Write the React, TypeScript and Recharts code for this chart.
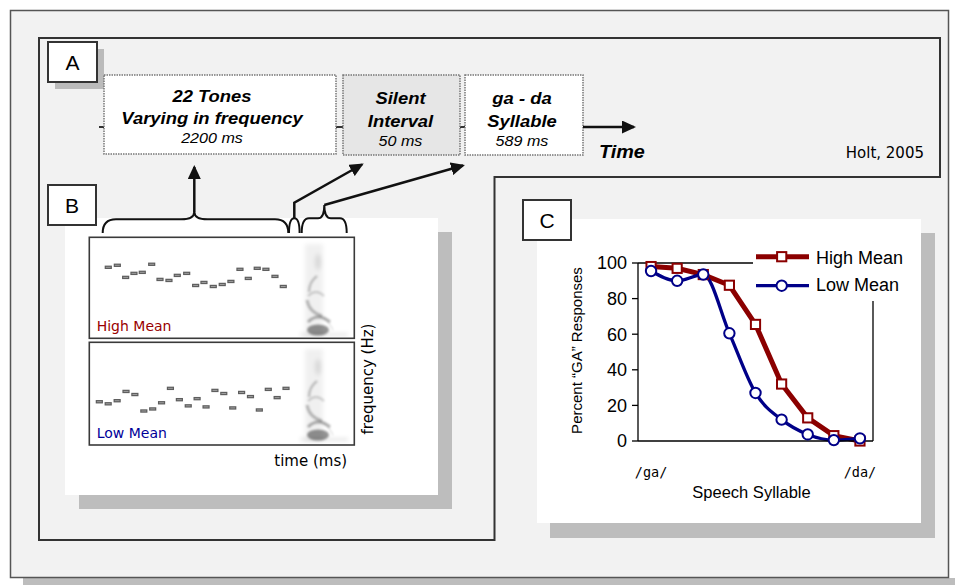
import React from 'react';
import {
  LineChart, Line, XAxis, YAxis, Legend, ReferenceLine, Label,
  ScatterChart, Scatter,
} from 'recharts';

// ---------- Panel C data (percent "GA" responses per stimulus step) ----------
const steps = [1, 2, 3, 4, 5, 6, 7, 8, 9];
const highMean = [98, 97, 93.5, 87.5, 65.5, 32, 13, 3, 0];
const lowMean = [95.5, 90, 93.5, 60.5, 27, 12, 3.7, 0.5, 1.5];
const seriesNames = ['High Mean', 'Low Mean'];
const yTicks = [0, 20, 40, 60, 80, 100];
const boundaryTicks = [0, 1, 2, 3, 4, 5, 6, 7, 8, 9];
const endpointTicks = [0.5, 8.5];
const endpointLabels = ['/ga/', '/da/'];

// ---------- Panel B tone sequences (time in ms, relative frequency 0-100) ----------
const toneTimesHigh = [211, 310, 401, 492, 583, 686, 777, 875, 966, 1069, 1167, 1258, 1360, 1458, 1553, 1652, 1743, 1841, 1936, 2035, 2126];
const toneFreqHigh = [70, 72, 60, 64, 65, 73, 58, 57, 62, 64, 52, 55, 51, 53, 56, 68, 59, 69, 68, 61, 51];
const toneTimesLow = [113, 210, 308, 405, 502, 600, 697, 794, 891, 989, 1086, 1183, 1281, 1378, 1475, 1573, 1670, 1767, 1864, 1962, 2059, 2156];
const toneFreqLow = [42, 40, 43, 52, 49, 33, 35, 41, 55, 44, 38, 45, 37, 53, 50, 36, 51, 47, 34, 54, 46, 55];

const RED = '#8b0000';
const BLUE = '#000088';
const SANS = '"Liberation Sans", Arial, Helvetica, sans-serif';
const VERD = '"DejaVu Sans", Verdana, sans-serif';

const lineData = steps.map((s, i) => ({ step: s, x: i + 0.5, high: highMean[i], low: lowMean[i] }));
const highTones = toneTimesHigh.map((t, i) => ({ t, f: toneFreqHigh[i] }));
const lowTones = toneTimesLow.map((t, i) => ({ t, f: toneFreqLow[i] }));

const SquareDot = (props: any) => {
  const { cx, cy, index } = props;
  if (cx == null || cy == null) return <g key={`sq-${index}`} />;
  return (
    <rect key={`sq-${index}`} x={cx - 4.6} y={cy - 4.6} width={9.2} height={9.2}
      fill="#fff" stroke={RED} strokeWidth={2} />
  );
};

const ToneShape = (props: any) => {
  const { cx, cy } = props;
  if (cx == null || cy == null) return <g />;
  return (
    <g>
      <rect x={cx - 3.6} y={cy - 1.7} width={7.2} height={3.4} fill="#5e5e5e" />
      <line x1={cx - 2.4} x2={cx + 2.4} y1={cy} y2={cy} stroke="#b0b0b0" strokeWidth={0.8} />
    </g>
  );
};

const renderLegend = () => (
  <svg width={168} height={61} style={{ display: 'block' }}>
    <line x1={3} x2={56} y1={16.7} y2={16.7} stroke={RED} strokeWidth={5} />
    <rect x={24.1} y={12.1} width={9.2} height={9.2} fill="#fff" stroke={RED} strokeWidth={2} />
    <text x={63} y={24} fontSize={18} fontFamily={SANS} fill="#000">{seriesNames[0]}</text>
    <line x1={3} x2={56} y1={45.7} y2={45.7} stroke={BLUE} strokeWidth={3.3} />
    <circle cx={28.7} cy={45.7} r={5.2} fill="#fff" stroke={BLUE} strokeWidth={2} />
    <text x={63} y={50.5} fontSize={18} fontFamily={SANS} fill="#000">{seriesNames[1]}</text>
  </svg>
);

const YLabel = (props: any) => {
  const vb = props.viewBox || { x: 578, y: 44, width: 60, height: 178 };
  const x = vb.x + 4;
  const y = vb.y + vb.height / 2 - 1.5;
  return (
    <text x={x} y={y} transform={`rotate(-90 ${x} ${y})`} textAnchor="middle"
      fontSize={15} fontFamily={SANS} fill="#000">
      Percent “GA” Responses
    </text>
  );
};

const Syllable = ({ dy }: { dy: number }) => (
  <g transform={`translate(0 ${dy})`}>
    <g filter="url(#blur2)">
      <rect x={305} y={244} width={18} height={93} fill="#000" opacity={0.06} />
      <ellipse cx={318} cy={262} rx={3} ry={8} fill="#000" opacity={0.1} />
      <rect x={300} y={333} width={48} height={3} fill="#000" opacity={0.1} />
    </g>
    <g filter="url(#blur1)" fill="none" stroke="#000">
      <path d="M317,276 Q309,282 309,292" strokeWidth={2.5} opacity={0.22} />
      <path d="M308,296 Q316,288 324,296" strokeWidth={2} opacity={0.18} />
      <path d="M307,300 Q309,312 322,316" strokeWidth={3} opacity={0.25} />
      <path d="M308,322 Q318,312 330,322" strokeWidth={3} opacity={0.3} />
      <path d="M323,318 Q329,322 333,330" strokeWidth={1.5} opacity={0.12} />
    </g>
    <g filter="url(#blur1)">
      <ellipse cx={318} cy={330} rx={11} ry={5.5} fill="#000" opacity={0.42} />
    </g>
  </g>
);

const Background = () => (
  <svg width={955} height={585} style={{ position: 'absolute', left: 0, top: 0 }}>
    <defs>
      <marker id="ah" markerUnits="userSpaceOnUse" markerWidth={14} markerHeight={13}
        viewBox="0 0 14 13" refX={12} refY={6.5} orient="auto">
        <path d="M0,0 L14,6.5 L0,13 z" fill="#111" />
      </marker>
      <filter id="blur1" x="-50%" y="-50%" width="200%" height="200%">
        <feGaussianBlur stdDeviation={1.3} />
      </filter>
      <filter id="blur2" x="-50%" y="-50%" width="200%" height="200%">
        <feGaussianBlur stdDeviation={2.2} />
      </filter>
      <clipPath id="clipTop"><rect x={90} y={238} width={263} height={99} /></clipPath>
      <clipPath id="clipBot"><rect x={90} y={343} width={263} height={101} /></clipPath>
    </defs>
    {/* outer frame */}
    <rect x={23} y={578} width={932} height={7} fill="#bdbdbd" />
    <rect x={10.5} y={10.5} width={938} height={567} fill="#f2f2f2" stroke="#555" strokeWidth={1.5} />
    {/* A/B outline */}
    <path d="M39 38 H940 V177 H494.5 V540 H39 Z" fill="none" stroke="#333" strokeWidth={2} />

    {/* label box A */}
    <rect x={55} y={49} width={49} height={40} fill="#bbb" />
    <rect x={48} y={42} width={49} height={40} fill="#fff" stroke="#333" strokeWidth={2} />
    <text x={72.5} y={69.5} textAnchor="middle" fontSize={21} fontFamily={SANS}>A</text>

    {/* sequence boxes */}
    <line x1={99} x2={104} y1={127} y2={127} stroke="#333" strokeWidth={2} />
    <line x1={336} x2={343} y1={127} y2={127} stroke="#333" strokeWidth={2} />
    <line x1={460} x2={465} y1={127} y2={127} stroke="#333" strokeWidth={2} />
    <rect x={104} y={75} width={232} height={79} fill="#fff" stroke="#777" strokeWidth={1.5} strokeDasharray="1.5 1" />
    <rect x={343} y={75} width={117} height={80} fill="#e6e6e6" stroke="#777" strokeWidth={1.5} strokeDasharray="1.5 1" />
    <rect x={465} y={75} width={118} height={80} fill="#fff" stroke="#777" strokeWidth={1.5} strokeDasharray="1.5 1" />
    <g fontFamily={SANS} textAnchor="middle" fill="#000">
      <g transform="translate(212 0) scale(1.15 1)">
        <text x={0} y={101.7} fontSize={16} fontWeight="bold" fontStyle="italic">22 Tones</text>
        <text x={0} y={124} fontSize={16} fontWeight="bold" fontStyle="italic">Varying in frequency</text>
        <text x={0} y={143.3} fontSize={14} fontStyle="italic">2200 ms</text>
      </g>
      <g transform="translate(400.5 0) scale(1.15 1)">
        <text x={0} y={104.5} fontSize={16} fontWeight="bold" fontStyle="italic">Silent</text>
        <text x={0} y={127} fontSize={16} fontWeight="bold" fontStyle="italic">Interval</text>
        <text x={0} y={146.5} fontSize={14} fontStyle="italic">50 ms</text>
      </g>
      <g transform="translate(522 0) scale(1.15 1)">
        <text x={0} y={104.5} fontSize={16} fontWeight="bold" fontStyle="italic">ga - da</text>
        <text x={0} y={127} fontSize={16} fontWeight="bold" fontStyle="italic">Syllable</text>
        <text x={0} y={146.5} fontSize={14} fontStyle="italic">589 ms</text>
      </g>
    </g>
    <line x1={583} x2={634} y1={127} y2={127} stroke="#111" strokeWidth={2.5} markerEnd="url(#ah)" />
    <g transform="translate(599 158.3) scale(1.1 1)">
      <text x={0} y={0} fontSize={18} fontWeight="bold" fontStyle="italic" fontFamily={SANS}>Time</text>
    </g>
    <text x={924} y={158} textAnchor="end" fontSize={15} fontFamily={VERD}>Holt, 2005</text>

    {/* panel B */}
    <rect x={79} y={232} width={373} height={277} fill="#bdbdbd" />
    <rect x={65} y={218} width={373} height={277} fill="#fff" />
    <rect x={48} y={185} width={48} height={40} fill="#fff" stroke="#333" strokeWidth={2} />
    <text x={72} y={212.5} textAnchor="middle" fontSize={21} fontFamily={SANS}>B</text>

    {/* braces and arrows */}
    <g fill="none" stroke="#111" strokeWidth={2}>
      <path d="M102.7,233 Q102.7,219.3 116,219.3 L181,219.3 Q194.3,219.3 194.3,211.7 Q194.3,219.3 207.6,219.3 L275,219.3 Q288.3,219.3 288.3,233" />
      <line x1={194.3} y1={212} x2={194.3} y2={167} strokeWidth={2.5} markerEnd="url(#ah)" />
      <path d="M289,233 Q289,218.3 294.3,218.3 Q299.6,218.3 299.6,233" />
      <path d="M294.3,218.3 V202.7 L362,164.5" strokeWidth={2.5} markerEnd="url(#ah)" />
      <path d="M301.7,233 Q301.7,218.3 309,218.3 L318,218.3 Q324.3,218.3 324.3,205 Q324.3,218.3 331,218.3 L340,218.3 Q346.7,218.3 346.7,233" />
      <path d="M324.3,205 L463,165.5" strokeWidth={2.5} markerEnd="url(#ah)" />
    </g>

    {/* spectrogram boxes */}
    <rect x={89.3} y={237.3} width={265} height={101} fill="#fff" stroke="#3a3a3a" strokeWidth={1.6} />
    <rect x={89.3} y={342.3} width={265} height={102.7} fill="#fff" stroke="#3a3a3a" strokeWidth={1.6} />
    <g clipPath="url(#clipTop)"><Syllable dy={0} /></g>
    <g clipPath="url(#clipBot)"><Syllable dy={105} /></g>
    <text x={96.7} y={330.7} fontSize={14} fontFamily={VERD} fill="#990000">High Mean</text>
    <text x={96.7} y={438.3} fontSize={14} fontFamily={VERD} fill="#000099">Low Mean</text>
    <text x={274.3} y={466} fontSize={15} fontFamily={VERD}>time (ms)</text>
    <text x={373} y={379} transform="rotate(-90 373 379)" textAnchor="middle" fontSize={15} fontFamily={VERD}>frequency (Hz)</text>

    {/* panel C */}
    <rect x={550} y={233} width={385} height={305} fill="#bdbdbd" />
    <rect x={537} y={219} width={384} height={304} fill="#fff" />
    <rect x={523} y={200} width={48} height={40} fill="#fff" stroke="#333" strokeWidth={2} />
    <text x={547} y={227.5} textAnchor="middle" fontSize={21} fontFamily={SANS}>C</text>
  </svg>
);

export default function App() {
  return (
    <div style={{ position: 'absolute', left: 0, top: 0, width: 955, height: 585, background: '#fff', overflow: 'hidden' }}>
      <Background />

      {/* tone sequences, panel B */}
      <div style={{ position: 'absolute', left: 89.3, top: 237.3 }}>
        <ScatterChart width={265} height={101} margin={{ top: 0, right: 0, bottom: 0, left: 0 }}>
          <XAxis type="number" dataKey="t" domain={[0, 2900]} hide />
          <YAxis type="number" dataKey="f" domain={[0, 100]} hide />
          <Scatter data={highTones} shape={ToneShape} isAnimationActive={false} />
        </ScatterChart>
      </div>
      <div style={{ position: 'absolute', left: 89.3, top: 342.3 }}>
        <ScatterChart width={265} height={103} margin={{ top: 0, right: 0, bottom: 0, left: 0 }}>
          <XAxis type="number" dataKey="t" domain={[0, 2900]} hide />
          <YAxis type="number" dataKey="f" domain={[0, 100]} hide />
          <Scatter data={lowTones} shape={ToneShape} isAnimationActive={false} />
        </ScatterChart>
      </div>

      {/* identification function, panel C */}
      <div style={{ position: 'absolute', left: 537, top: 219 }}>
        <LineChart width={384} height={304} data={lineData}
          margin={{ top: 44, right: 48, bottom: 25.5, left: 41 }}>
          <XAxis xAxisId="b" dataKey="x" type="number" domain={[0, 9]} ticks={boundaryTicks}
            interval={0} tick={false} tickSize={8} height={26.5}
            axisLine={{ stroke: '#000', strokeWidth: 1.3 }} tickLine={{ stroke: '#000', strokeWidth: 1.3 }} />
          <XAxis xAxisId="lab" dataKey="x" type="number" domain={[0, 9]} ticks={endpointTicks}
            interval={0} height={30} axisLine={false} tickLine={false} tickSize={0} tickMargin={0}
            tickFormatter={(v: number) => (v < 4 ? endpointLabels[0] : endpointLabels[1])}
            tick={{ fontSize: 13.5, fill: '#000', fontFamily: '"DejaVu Sans Mono", monospace' }}>
            <Label value="Speech Syllable" position="insideBottom" offset={0} dx={-4}
              fontSize={16.5} fill="#000" fontFamily={SANS} />
          </XAxis>
          <YAxis domain={[0, 100]} ticks={yTicks} interval={0} width={60} tickSize={6} tickMargin={5}
            tick={{ fontSize: 18, fill: '#000', fontFamily: SANS }}
            axisLine={{ stroke: '#000', strokeWidth: 1.3 }} tickLine={{ stroke: '#000', strokeWidth: 1.3 }}>
            <Label content={YLabel} />
          </YAxis>
          <ReferenceLine xAxisId="b" y={100} stroke="#000" strokeWidth={1.3} />
          <ReferenceLine xAxisId="b" x={9} stroke="#000" strokeWidth={1.3} />
          <Legend layout="vertical" align="center" verticalAlign="middle" content={renderLegend}
            wrapperStyle={{ left: 216, top: 21, width: 168, height: 61, background: '#fff' }} />
          <Line xAxisId="b" name={seriesNames[0]} dataKey="high" type="linear" stroke={RED} strokeWidth={5}
            dot={SquareDot} activeDot={false} isAnimationActive={false} />
          <Line xAxisId="b" name={seriesNames[1]} dataKey="low" type="monotone" stroke={BLUE} strokeWidth={3.3}
            dot={{ r: 5.2, fill: '#fff', stroke: BLUE, strokeWidth: 2 }} activeDot={false} isAnimationActive={false} />
        </LineChart>
      </div>
    </div>
  );
}
